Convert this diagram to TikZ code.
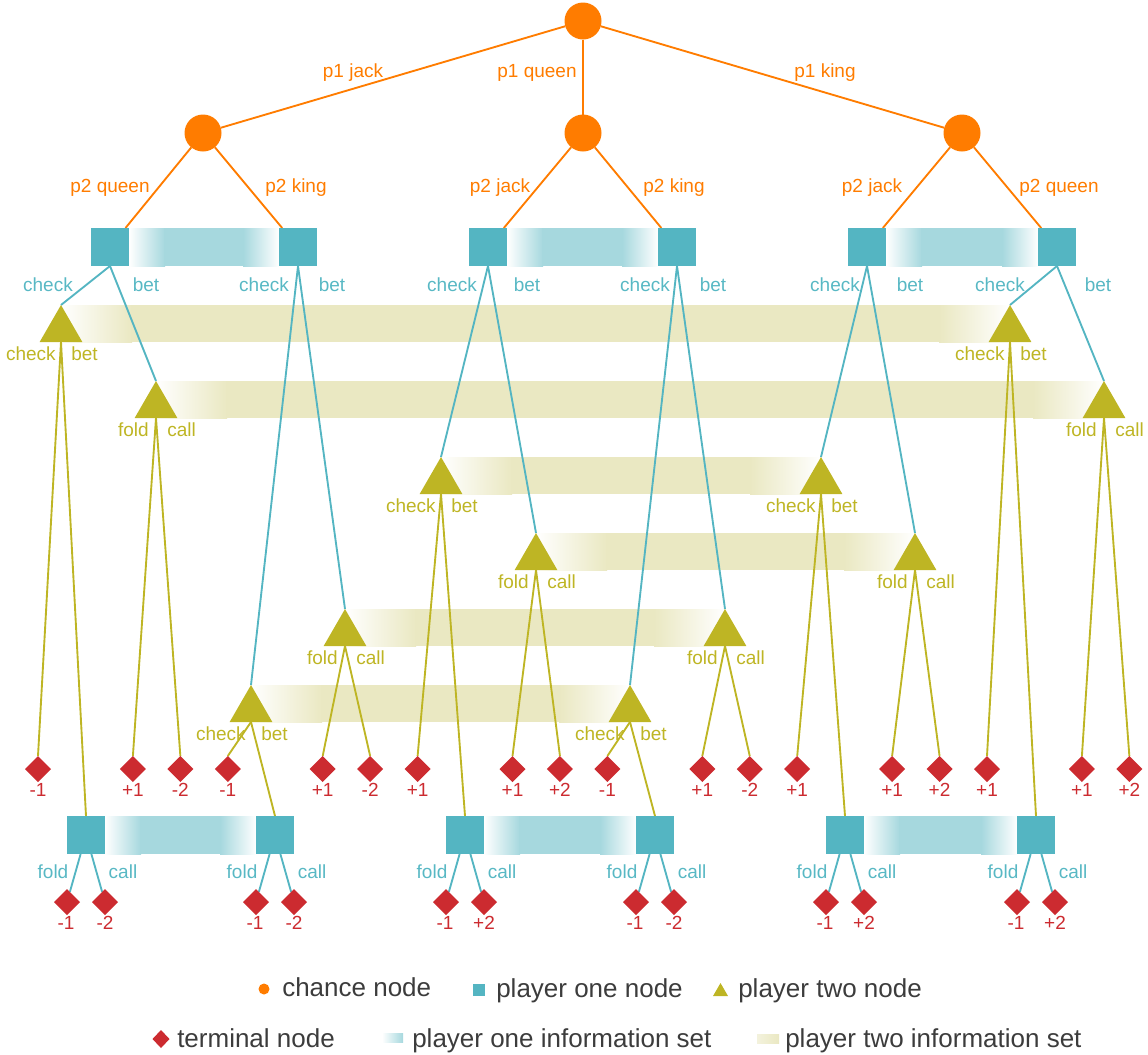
\documentclass[tikz,border=0pt]{standalone}
\usepackage{fontspec}
\setmainfont{Liberation Sans}
\usetikzlibrary{shapes.geometric}
\definecolor{corange}{RGB}{255,124,0}
\definecolor{cteal}{RGB}{84,181,194}
\definecolor{ctealtext}{RGB}{88,184,196}
\definecolor{cband}{RGB}{166,216,222}
\definecolor{colive}{RGB}{190,181,36}
\definecolor{cbeige}{RGB}{234,232,194}
\definecolor{cred}{RGB}{204,43,48}
\definecolor{cgray}{RGB}{60,60,60}
\pgfdeclarelayer{bands}
\pgfdeclarelayer{edges}
\pgfsetlayers{bands,edges,main}
\newcommand\labfont{\fontsize{14.25pt}{17pt}\selectfont}
\newcommand\legfont{\fontsize{19.5pt}{23pt}\selectfont}
% P2 information set band: left apex x, right apex x, apex y
\newcommand\ptwoband[3]{%
  \fill[left color=white,right color=cbeige] (#1,#3) rectangle (#1+71,#3+37);
  \fill[cbeige] (#1+70,#3) rectangle (#2-70,#3+37);
  \fill[left color=cbeige,right color=white] (#2-71,#3) rectangle (#2,#3+37);}
% P1 information set band: left edge x, right edge x, top y
\newcommand\poneband[3]{%
  \fill[left color=white,right color=cband] (#1,#3) rectangle (#1+36,#3+38);
  \fill[cband] (#1+35,#3) rectangle (#2-35,#3+38);
  \fill[left color=cband,right color=white] (#2-36,#3) rectangle (#2,#3+38);}
\begin{document}
\begin{tikzpicture}[x=0.75pt,y=-0.75pt,
  chance/.style={circle,fill=corange,inner sep=0pt,outer sep=0pt,minimum size=27.75pt},
  pone/.style={rectangle,fill=cteal,inner sep=0pt,outer sep=0pt,minimum size=28.5pt},
  ptwo/.style={regular polygon,regular polygon sides=3,fill=colive,inner sep=0pt,outer sep=0pt,minimum size=37pt},
  term/.style={diamond,fill=cred,inner sep=0pt,outer sep=0pt,minimum size=19.5pt},
  oline/.style={draw=corange,line width=1.4pt},
  tline/.style={draw=cteal,line width=1.4pt},
  yline/.style={draw=colive,line width=1.4pt},
  olab/.style={text=corange,font=\labfont,anchor=base,inner sep=0pt},
  tlab/.style={text=ctealtext,font=\labfont,anchor=base,inner sep=0pt},
  ylab/.style={text=colive,font=\labfont,inner sep=0pt},
  rlab/.style={text=cred,font=\labfont,anchor=base,inner sep=0pt},
  leg/.style={text=cgray,font=\legfont,anchor=base west,inner sep=0pt}]
\useasboundingbox (0,0) rectangle (1148,1054);

% ---------- chance nodes
\node[chance] (c0) at (583,21) {};
\node[chance] (c1) at (203,133) {};
\node[chance] (c2) at (583,133) {};
\node[chance] (c3) at (962,133) {};
\node[olab] (l01) at (353,77) {p1 jack};
\node[olab] (l02) at (537,77) {p1 queen};
\node[olab] (l03) at (825,77) {p1 king};
\node[olab] (l11) at (110,192) {p2 queen};
\node[olab] (l12) at (296,192) {p2 king};
\node[olab] (l21) at (500,192) {p2 jack};
\node[olab] (l22) at (674,192) {p2 king};
\node[olab] (l31) at (872,192) {p2 jack};
\node[olab] (l32) at (1059,192) {p2 queen};

% ---------- player one, first decision
\node[pone] (sJQ) at (110,247) {};
\node[pone] (sJK) at (298,247) {};
\node[pone] (sQJ) at (488,247) {};
\node[pone] (sQK) at (677,247) {};
\node[pone] (sKJ) at (867,247) {};
\node[pone] (sKQ) at (1057,247) {};
\foreach \c/\b [count=\i] in {48/146,264/332,452/527,645/713,835/910,1000/1098}{
  \node[tlab] (tc\i) at (\c,291) {check};
  \node[tlab] (tb\i) at (\b,291) {bet};}

% ---------- player two nodes (apex x, apex y)
\foreach \n/\x/\y in {tJQc/61/305,tKQc/1010/305,tJQb/156/381,tKQb/1104/381,
  tQJc/441/457,tKJc/821/457,tQJb/536/533,tKJb/915/533,
  tJKb/345/609,tQKb/725/609,tJKc/251/685,tQKc/630/685}
  \node[ptwo] (\n) at (\x,\y+24.67) {};
\foreach \x/\y [count=\i] in {61/305,1010/305,441/457,821/457,251/685,630/685}{
  \node[ylab,anchor=base east] (yc\i) at (\x-5,\y+55) {check};
  \node[ylab,anchor=base west] (yb\i) at (\x+10,\y+55) {bet};}
\foreach \x/\y [count=\i] in {156/381,1104/381,536/533,915/533,345/609,725/609}{
  \node[ylab,anchor=base east] (yf\i) at (\x-7,\y+55) {fold};
  \node[ylab,anchor=base west] (yk\i) at (\x+11,\y+55) {call};}

% ---------- terminal nodes, middle row
\foreach \k/\v in {0/-1,2/+1,3/-2,4/-1,6/+1,7/-2,8/+1,10/+1,11/+2,12/-1,
  14/+1,15/-2,16/+1,18/+1,19/+2,20/+1,22/+1,23/+2}{
  \node[term] (m\k) at ({38+47.45*\k},769) {};
  \node[rlab] (mv\k) at ({38+47.45*\k},796) {\v};}

% ---------- player one, second decision
\foreach \n/\x/\a/\b in {bJQ/86/-1/-2,bJK/275/-1/-2,bQJ/465/-1/+2,
  bQK/655/-1/-2,bKJ/845/-1/+2,bKQ/1036/-1/+2}{
  \node[pone] (\n) at (\x,835) {};
  \node[term] (\n f) at (\x-19,902) {};
  \node[term] (\n c) at (\x+19,902) {};
  \node[rlab] (\n fv) at (\x-20,929) {\a};
  \node[rlab] (\n cv) at (\x+19,929) {\b};
  \node[tlab] (\n fl) at (\x-33,878) {fold};
  \node[tlab] (\n cl) at (\x+37,878) {call};}

% ---------- information sets
\begin{pgfonlayer}{bands}
  \ptwoband{61}{1010}{305}
  \ptwoband{156}{1104}{381}
  \ptwoband{441}{821}{457}
  \ptwoband{536}{915}{533}
  \ptwoband{345}{725}{609}
  \ptwoband{251}{630}{685}
  \poneband{129}{279}{228}
  \poneband{507}{658}{228}
  \poneband{886}{1038}{228}
  \poneband{105}{256}{816}
  \poneband{484}{636}{816}
  \poneband{864}{1017}{816}
\end{pgfonlayer}

% ---------- edges
\begin{pgfonlayer}{edges}
  \draw[oline] (c0) -- (c1);
  \draw[oline] (c0) -- (c2);
  \draw[oline] (c0) -- (c3);
  \draw[oline] (c1) -- (sJQ);
  \draw[oline] (c1) -- (sJK);
  \draw[oline] (c2) -- (sQJ);
  \draw[oline] (c2) -- (sQK);
  \draw[oline] (c3) -- (sKJ);
  \draw[oline] (c3) -- (sKQ);
  \foreach \s in {JQ,JK,QJ,QK,KJ,KQ}{
    \draw[tline] (s\s.south) -- (t\s c.corner 1);
    \draw[tline] (s\s.south) -- (t\s b.corner 1);
    \draw[yline] (t\s c.side 2) -- (b\s.north);
    \draw[tline] (b\s) -- (b\s f);
    \draw[tline] (b\s) -- (b\s c);}
  \foreach \t/\a in {JQc/0,JKc/4,QJc/8,QKc/12,KJc/16,KQc/20}
    \draw[yline] (t\t.side 2) -- (m\a.north);
  \foreach \t/\a/\b in {JQb/2/3,JKb/6/7,QJb/10/11,QKb/14/15,KJb/18/19,KQb/22/23}{
    \draw[yline] (t\t.side 2) -- (m\a.north);
    \draw[yline] (t\t.side 2) -- (m\b.north);}
\end{pgfonlayer}

% ---------- legend
\node[chance,minimum size=8.25pt] (lgc) at (264,989) {};
\node[leg] (lgct) at (282,996) {chance node};
\node[pone,minimum size=9pt] (lgs) at (479,990) {};
\node[leg] (lgst) at (496,997) {player one node};
\node[ptwo,minimum size=13pt] (lgt) at (720.5,991.7) {};
\node[leg] (lgtt) at (738,997) {player two node};
\node[term,minimum width=12.75pt,minimum height=13.5pt] (lgd) at (161,1039) {};
\node[leg] (lgdt) at (177,1047) {terminal node};
\node[inner sep=0pt,outer sep=0pt,minimum width=15.75pt,minimum height=6.75pt,
  left color=white,right color=cband] (lgb1) at (392.5,1037.5) {};
\node[leg] (lgb1t) at (412,1047) {player one information set};
\node[inner sep=0pt,outer sep=0pt,minimum width=16.5pt,minimum height=6.75pt,
  left color=cbeige!55,right color=cbeige] (lgb2) at (768,1038.5) {};
\node[leg] (lgb2t) at (785,1047) {player two information set};
\end{tikzpicture}
\end{document}
